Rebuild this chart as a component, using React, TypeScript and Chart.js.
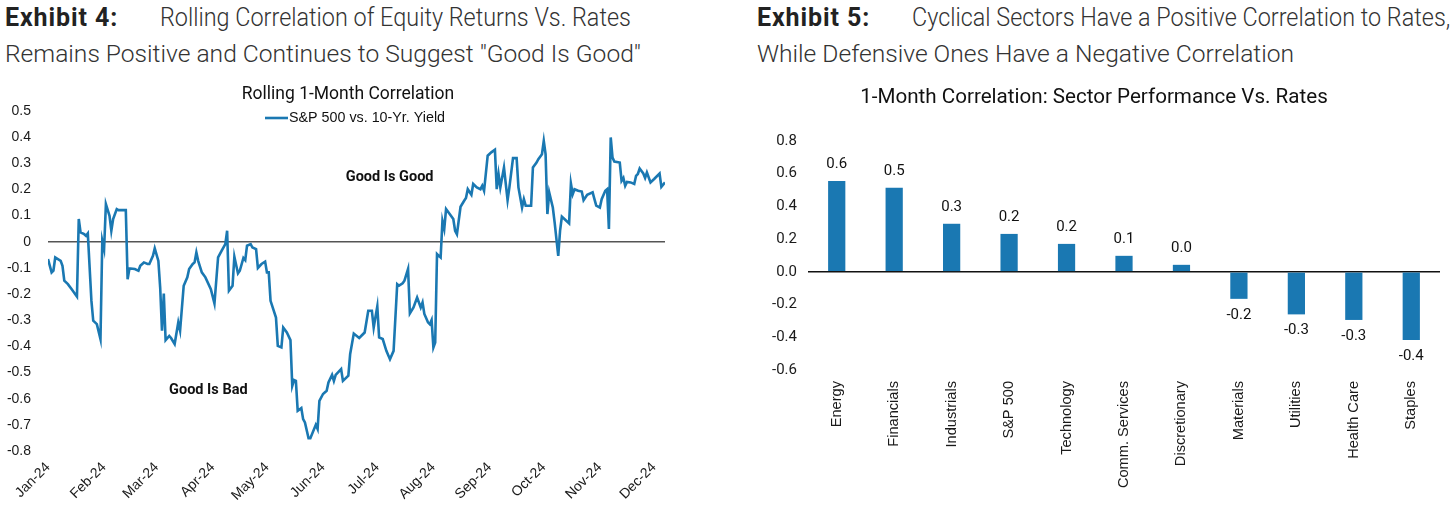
import React, { useEffect, useRef } from 'react';
import { Chart, registerables } from 'chart.js';

Chart.register(...registerables);

// ---------- Exhibit 4 data ----------
const monthTicks = [0, 31, 60, 91, 121, 152, 182, 213, 244, 274, 305, 335];
const monthLabels = ['Jan-24', 'Feb-24', 'Mar-24', 'Apr-24', 'May-24', 'Jun-24', 'Jul-24', 'Aug-24', 'Sep-24', 'Oct-24', 'Nov-24', 'Dec-24'];

// day of year (0 = Jan 1, 2024)
const corrDays = [
  0, 2, 3, 4, 7, 8, 9, 11, 13, 16, 17, 18, 20, 21, 22, 24, 25, 27, 29, 30,
  31, 32, 34, 35, 36, 38, 39, 43, 44, 45, 48, 50, 51, 53, 55, 56, 58, 59, 61, 62,
  63, 64, 65, 67, 68, 70, 72, 73, 75, 77, 78, 80, 81, 82, 83, 85, 87, 90, 92, 94,
  96, 98, 99, 100, 102, 103, 105, 106, 108, 109, 110, 112, 113, 115, 116, 118, 120, 121, 122, 123,
  126, 127, 129, 130, 132, 134, 135, 136, 137, 138, 140, 141, 142, 144, 145, 148, 149, 150, 152, 154,
  155, 157, 158, 159, 162, 163, 166, 167, 169, 172, 175, 177, 179, 180, 182, 183, 185, 187, 189, 191,
  193, 194, 196, 197, 199, 200, 202, 204, 206, 207, 208, 210, 211, 212, 213, 214, 215, 216, 217, 218,
  219, 220, 222, 224, 225, 226, 228, 230, 231, 232, 234, 235, 237, 239, 240, 241, 243, 245, 247, 248,
  249, 250, 252, 254, 255, 257, 259, 260, 262, 263, 264, 267, 268, 270, 271, 273, 274, 275, 276, 277,
  279, 280, 282, 283, 284, 286, 288, 289, 290, 291, 293, 295, 296, 298, 301, 302, 303, 305, 306, 308,
  309, 310, 311, 312, 313, 316, 317, 318, 319, 320, 322, 324, 325, 326, 327, 329, 330, 331, 333, 335,
  338, 339, 341,
];
const corrValues = [
  -0.066, -0.117, -0.11, -0.06, -0.073, -0.092, -0.149, -0.162, -0.181, -0.21, 0.087, 0.036, 0.029, 0.023, 0.032, -0.226, -0.302, -0.315, -0.372, 0.004,
  -0.028, 0.144, 0.099, 0.042, 0.087, 0.125, 0.121, 0.121, -0.143, -0.102, -0.104, -0.111, -0.092, -0.079, -0.085, -0.085, -0.054, -0.025, -0.073, -0.175,
  -0.34, -0.198, -0.376, -0.36, -0.368, -0.391, -0.308, -0.34, -0.168, -0.136, -0.104, -0.085, -0.079, -0.041, -0.073, -0.117, -0.136, -0.181, -0.236, -0.06,
  -0.034, -0.009, 0.042, -0.187, -0.168, -0.057, -0.121, -0.111, -0.062, -0.07, -0.015, -0.009, -0.022, -0.028, -0.1, -0.085, -0.076, -0.117, -0.117, -0.226,
  -0.29, -0.398, -0.404, -0.328, -0.347, -0.376, -0.551, -0.529, -0.532, -0.646, -0.636, -0.678, -0.691, -0.751, -0.751, -0.7, -0.716, -0.608, -0.582, -0.57,
  -0.538, -0.509, -0.532, -0.509, -0.487, -0.532, -0.512, -0.429, -0.351, -0.368, -0.347, -0.264, -0.264, -0.328, -0.247, -0.366, -0.372, -0.417, -0.449, -0.417,
  -0.162, -0.168, -0.159, -0.149, -0.104, -0.274, -0.251, -0.213, -0.251, -0.232, -0.276, -0.308, -0.315, -0.299, -0.404, -0.385, -0.047, -0.054, -0.06, 0.08,
  0.049, 0.125, 0.106, 0.087, 0.042, 0.029, 0.134, 0.157, 0.167, 0.201, 0.18, 0.221, 0.208, 0.201, 0.214, 0.195, 0.329, 0.342, 0.352, 0.201,
  0.259, 0.208, 0.284, 0.159, 0.208, 0.32, 0.32, 0.208, 0.131, 0.163, 0.138, 0.138, 0.284, 0.303, 0.316, 0.335, 0.386, 0.335, 0.106, 0.189,
  0.131, 0.074, -0.054, 0.042, 0.096, 0.083, 0.07, 0.223, 0.182, 0.201, 0.195, 0.192, 0.159, 0.18, 0.189, 0.163, 0.138, 0.131, 0.163, 0.195,
  0.201, 0.049, 0.399, 0.322, 0.307, 0.303, 0.233, 0.244, 0.214, 0.229, 0.227, 0.221, 0.252, 0.259, 0.28, 0.261, 0.244, 0.265, 0.227, 0.24,
  0.261, 0.21, 0.227,
];
const noteTexts = ['Good Is Good', 'Good Is Bad'];
const noteDays = [188.8, 88.6];
const noteValues = [0.245, -0.57];

// ---------- Exhibit 5 data ----------
const sectorNames = ['Energy', 'Financials', 'Industrials', 'S&P 500', 'Technology', 'Comm. Services', 'Discretionary', 'Materials', 'Utilities', 'Health Care', 'Staples'];
const sectorValues = [0.556, 0.514, 0.294, 0.232, 0.171, 0.098, 0.043, -0.165, -0.26, -0.294, -0.416];

const BLUE = '#1a78b2';
const TICK_FONT = 'Liberation Sans';

function fmtLeft(v: number) {
  if (Math.abs(v) < 1e-9) return '0';
  return v.toFixed(1);
}
function fmtRight(v: number) {
  if (Math.abs(v) < 1e-9) return '0.0';
  return v.toFixed(1);
}

const leftDecor = {
  id: 'leftDecor',
  afterDatasetsDraw(chart: any) {
    const { ctx, scales } = chart;
    const x = scales.x;
    const y = scales.y;
    ctx.save();
    // annotations
    ctx.font = 'bold 14.5px Roboto';
    ctx.fillStyle = '#111';
    ctx.textAlign = 'center';
    ctx.textBaseline = 'middle';
    noteTexts.forEach((t, i) => {
      ctx.fillText(t, x.getPixelForValue(noteDays[i]), y.getPixelForValue(noteValues[i]));
    });
    // title
    ctx.font = '17.5px Roboto';
    ctx.fillStyle = '#111';
    ctx.fillText('Rolling 1-Month Correlation', 348, 15);
    // legend
    ctx.strokeStyle = BLUE;
    ctx.lineWidth = 2.6;
    ctx.beginPath();
    ctx.moveTo(265, 38);
    ctx.lineTo(288, 38);
    ctx.stroke();
    ctx.font = '14.3px ' + TICK_FONT;
    ctx.textAlign = 'left';
    ctx.fillStyle = '#111';
    ctx.fillText(chart.data.datasets[0].label, 289, 38);
    ctx.restore();
  },
};

const rightDecor = {
  id: 'rightDecor',
  afterDatasetsDraw(chart: any) {
    const { ctx } = chart;
    const meta = chart.getDatasetMeta(0);
    const vals = chart.data.datasets[0].data as number[];
    ctx.save();
    ctx.font = '15px Roboto';
    ctx.fillStyle = '#111';
    ctx.textAlign = 'center';
    ctx.textBaseline = 'middle';
    meta.data.forEach((bar: any, i: number) => {
      const v = vals[i];
      const label = fmtRight(v);
      const yy = v >= 0 ? bar.y - 17 : bar.y + 16;
      ctx.fillText(label, bar.x, yy);
    });
    ctx.font = '20.6px Roboto';
    ctx.fillText('1-Month Correlation: Sector Performance Vs. Rates', 354, 18);
    ctx.restore();
  },
};

function LeftChart() {
  const ref = useRef<HTMLCanvasElement>(null);
  useEffect(() => {
    if (!ref.current) return;
    const chart = new Chart(ref.current, {
      type: 'line',
      data: {
        datasets: [
          {
            label: 'S&P 500 vs. 10-Yr. Yield',
            data: corrDays.map((d, i) => ({ x: d, y: corrValues[i] })),
            borderColor: BLUE,
            borderWidth: 2.6,
            pointRadius: 0,
            tension: 0,
            fill: false,
          },
        ],
      },
      options: {
        animation: false,
        responsive: false,
        maintainAspectRatio: false,
        layout: { padding: { left: 0, right: 63, top: 31, bottom: 0 } },
        plugins: { legend: { display: false }, title: { display: false }, tooltip: { enabled: false } },
        scales: {
          x: {
            type: 'linear',
            min: 0,
            max: corrDays[corrDays.length - 1],
            afterBuildTicks: (s: any) => {
              s.ticks = monthTicks.map((v) => ({ value: v }));
            },
            afterFit: (s: any) => {
              s.height = 57;
            },
            ticks: {
              autoSkip: false,
              maxRotation: 45,
              minRotation: 45,
              padding: 8,
              color: '#1a1a1a',
              font: { family: TICK_FONT, size: 14 },
              callback: (v: any) => {
                const idx = monthTicks.indexOf(Number(v));
                return idx >= 0 ? monthLabels[idx] : '';
              },
            },
            grid: { display: false, drawTicks: false },
            border: { display: false },
          },
          y: {
            min: -0.8,
            max: 0.5,
            afterFit: (s: any) => {
              s.width = 48;
            },
            ticks: {
              stepSize: 0.1,
              padding: 17,
              color: '#1a1a1a',
              font: { family: TICK_FONT, size: 14 },
              callback: (v: any) => fmtLeft(Number(v)),
            },
            grid: {
              drawTicks: false,
              lineWidth: 1.5,
              color: (c: any) => (Math.abs(c.tick.value) < 1e-9 ? '#555555' : 'rgba(0,0,0,0)'),
            },
            border: { display: false },
          },
        },
      },
      plugins: [leftDecor],
    });
    return () => chart.destroy();
  }, []);
  return <canvas ref={ref} width={728} height={428} style={{ position: 'absolute', left: 0, top: 80, width: 728, height: 428 }} />;
}

function RightChart() {
  const ref = useRef<HTMLCanvasElement>(null);
  useEffect(() => {
    if (!ref.current) return;
    const chart = new Chart(ref.current, {
      type: 'bar',
      data: {
        labels: sectorNames,
        datasets: [
          {
            label: '1-Month Correlation',
            data: sectorValues,
            backgroundColor: BLUE,
            categoryPercentage: 1,
            barPercentage: 0.3,
          },
        ],
      },
      options: {
        animation: false,
        responsive: false,
        maintainAspectRatio: false,
        layout: { padding: { left: 0, right: 16, top: 61, bottom: 0 } },
        plugins: { legend: { display: false }, title: { display: false }, tooltip: { enabled: false } },
        scales: {
          x: {
            afterFit: (s: any) => {
              s.height = 138;
            },
            ticks: {
              autoSkip: false,
              maxRotation: 90,
              minRotation: 90,
              padding: 11,
              color: '#1a1a1a',
              font: { family: TICK_FONT, size: 14.6 },
            },
            grid: { display: false, drawTicks: false },
            border: { display: false },
          },
          y: {
            min: -0.6,
            max: 0.8,
            afterFit: (s: any) => {
              s.width = 68;
            },
            ticks: {
              stepSize: 0.2,
              padding: 11,
              color: '#1a1a1a',
              font: { family: 'Roboto', size: 15 },
              callback: (v: any) => fmtRight(Number(v)),
            },
            grid: {
              drawTicks: false,
              lineWidth: 1.5,
              color: (c: any) => (Math.abs(c.tick.value) < 1e-9 ? '#111111' : 'rgba(0,0,0,0)'),
            },
            border: { display: false },
          },
        },
      },
      plugins: [rightDecor],
    });
    return () => chart.destroy();
  }, []);
  return <canvas ref={ref} width={716} height={428} style={{ position: 'absolute', left: 740, top: 80, width: 716, height: 428 }} />;
}

const headBold: React.CSSProperties = { fontWeight: 700, color: '#222', letterSpacing: '0.9px' };
const lineStyle: React.CSSProperties = {
  position: 'absolute',
  fontFamily: 'Roboto',
  fontSize: 25,
  lineHeight: '30px',
  whiteSpace: 'nowrap',
  color: '#333',
  fontWeight: 300,
};
const line2Style: React.CSSProperties = { ...lineStyle, fontSize: 24.6 };
const squeezed: React.CSSProperties = {
  display: 'inline-block',
  transform: 'scaleX(0.936)',
  transformOrigin: 'left top',
};

export default function App() {
  useEffect(() => {
    document.body.style.margin = '0';
  }, []);
  return (
    <div style={{ position: 'relative', width: 1456, height: 508, background: '#fff', overflow: 'hidden' }}>
      <div style={{ ...lineStyle, left: 5, top: 3 }}>
        <span style={headBold}>Exhibit 4:</span>
      </div>
      <div style={{ ...lineStyle, left: 160, top: 3 }}>
        <span style={squeezed}>Rolling Correlation of Equity Returns Vs. Rates</span>
      </div>
      <div style={{ ...line2Style, left: 5, top: 39 }}>Remains Positive and Continues to Suggest "Good Is Good"</div>
      <div style={{ ...lineStyle, left: 757, top: 3 }}>
        <span style={headBold}>Exhibit 5:</span>
      </div>
      <div style={{ ...lineStyle, left: 912, top: 3 }}>
        <span style={squeezed}>Cyclical Sectors Have a Positive Correlation to Rates,</span>
      </div>
      <div style={{ ...line2Style, left: 757, top: 39 }}>While Defensive Ones Have a Negative Correlation</div>
      <LeftChart />
      <RightChart />
    </div>
  );
}
